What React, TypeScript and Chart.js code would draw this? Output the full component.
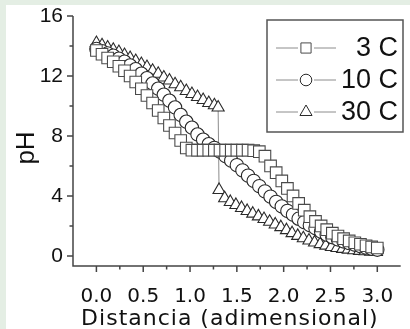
import React, { useEffect, useRef } from 'react';
import { Chart, registerables } from 'chart.js';

Chart.register(...registerables);

// ---------- data ----------
const distancia = [
  0, 0.06, 0.12, 0.18, 0.24, 0.3, 0.36, 0.42, 0.48, 0.54, 0.6, 0.66, 0.72, 0.78, 0.84, 0.9, 0.96,
  1.02, 1.08, 1.14, 1.2, 1.26, 1.32, 1.38, 1.44, 1.5, 1.56, 1.62, 1.68, 1.74, 1.8, 1.86, 1.92, 1.98,
  2.04, 2.1, 2.16, 2.22, 2.28, 2.34, 2.4, 2.46, 2.52, 2.58, 2.64, 2.7, 2.76, 2.82, 2.88, 2.94, 3.0,
];

const ph3C = [
  13.7, 13.45, 13.2, 12.95, 12.65, 12.35, 12.0, 11.6, 11.15, 10.7, 10.2, 9.7, 9.2, 8.7, 8.2, 7.7, 7.2,
  7.05, 7.05, 7.05, 7.05, 7.05, 7.05, 7.05, 7.05, 7.05, 7.05, 7.05, 7.02, 6.95, 6.65, 6.0, 5.55, 5.0,
  4.5, 4.0, 3.5, 3.05, 2.62, 2.3, 2.0, 1.75, 1.52, 1.33, 1.15, 1.0, 0.88, 0.78, 0.68, 0.6, 0.53,
];

const ph10C = [
  13.8, 13.65, 13.5, 13.35, 13.15, 12.95, 12.7, 12.45, 12.15, 11.85, 11.5, 11.15, 10.75, 10.35, 9.9, 9.4, 8.95,
  8.55, 8.1, 7.75, 7.45, 7.2, 6.95, 6.65, 6.35, 6.05, 5.7, 5.35, 5.0, 4.65, 4.3, 3.95, 3.6, 3.3,
  3.0, 2.75, 2.48, 2.25, 2.05, 1.85, 1.62, 1.42, 1.25, 1.1, 0.97, 0.86, 0.75, 0.65, 0.56, 0.48, 0.42,
];

const distancia30 = [
  0, 0.06, 0.12, 0.18, 0.24, 0.3, 0.36, 0.42, 0.48, 0.54, 0.6, 0.66, 0.72, 0.78, 0.84, 0.9, 0.96,
  1.02, 1.08, 1.14, 1.2, 1.26, 1.3,
  1.31, 1.37, 1.43, 1.49, 1.55, 1.61, 1.67, 1.73, 1.79, 1.85, 1.91, 1.97, 2.03, 2.09, 2.15, 2.21,
  2.27, 2.33, 2.39, 2.45, 2.51, 2.57, 2.63, 2.69, 2.75, 2.81, 2.87, 2.93, 2.99,
];

const ph30C = [
  14.2, 14.05, 13.9, 13.75, 13.6, 13.4, 13.2, 13.0, 12.8, 12.6, 12.35, 12.15, 11.9, 11.7, 11.45, 11.25, 11.0,
  10.8, 10.6, 10.4, 10.2, 10.05, 9.9,
  4.4, 3.85, 3.6, 3.4, 3.2, 3.0, 2.82, 2.64, 2.46, 2.28, 2.1, 1.92, 1.72, 1.52, 1.34, 1.18,
  1.03, 0.9, 0.79, 0.69, 0.6, 0.53, 0.47, 0.42, 0.38, 0.34, 0.31, 0.28, 0.26,
];

const seriesNames = ['3 C', '10 C', '30 C'];
const seriesMarkers = ['rect', 'circle', 'triangle'];

const xMajorTicks = [0, 0.5, 1, 1.5, 2, 2.5, 3];
const xTickLabels = ['0.0', '0.5', '1.0', '1.5', '2.0', '2.5', '3.0'];
const xMinorTicks = [0.25, 0.75, 1.25, 1.75, 2.25, 2.75];
const yMajorTicks = [0, 4, 8, 12, 16];
const yTickLabels = ['0', '4', '8', '12', '16'];
const yMinorTicks = [2, 6, 10, 14];

const xTitle = 'Distancia (adimensional)';
const yTitle = 'pH';

// ---------- styles ----------
const LINE_COLOR = '#8c8c8c';
const AXIS_COLOR = '#444';
const TEXT_COLOR = '#111';
const MARKER_COLORS = ['#4a4a4a', '#2a2a2a', '#2a2a2a'];
const MARKER_RADII = [8.2, 6.7, 7.0];

function drawMarker(ctx: CanvasRenderingContext2D, style: string, x: number, y: number, r: number) {
  ctx.beginPath();
  if (style === 'rect') {
    const s = r * Math.SQRT1_2;
    ctx.rect(x - s, y - s, 2 * s, 2 * s);
  } else if (style === 'circle') {
    ctx.arc(x, y, r, 0, Math.PI * 2);
  } else {
    let a = 0;
    ctx.moveTo(x + Math.sin(a) * r, y - Math.cos(a) * r);
    a += (2 * Math.PI) / 3;
    ctx.lineTo(x + Math.sin(a) * r, y - Math.cos(a) * r);
    a += (2 * Math.PI) / 3;
    ctx.lineTo(x + Math.sin(a) * r, y - Math.cos(a) * r);
    ctx.closePath();
  }
  ctx.fill();
  ctx.stroke();
}

const decorPlugin = {
  id: 'decor',
  beforeDraw(chart: any) {
    const ctx = chart.ctx as CanvasRenderingContext2D;
    ctx.save();
    ctx.fillStyle = '#e4eee4';
    ctx.fillRect(0, 0, chart.width, chart.height);
    ctx.fillStyle = '#ffffff';
    ctx.fillRect(6, 5, chart.width - 6, chart.height - 5);
    ctx.restore();
  },
  beforeDatasetsDraw(chart: any) {
    const ctx = chart.ctx as CanvasRenderingContext2D;
    const { left, right, top, bottom } = chart.chartArea;
    const xs = chart.scales.x;
    const ys = chart.scales.y;
    ctx.save();
    ctx.strokeStyle = AXIS_COLOR;
    ctx.lineWidth = 1.5;
    ctx.beginPath();
    ctx.moveTo(left, top);
    ctx.lineTo(left, bottom);
    ctx.lineTo(right, bottom);
    for (const v of yMajorTicks) {
      const y = ys.getPixelForValue(v);
      ctx.moveTo(left, y);
      ctx.lineTo(left - 6, y);
    }
    for (const v of yMinorTicks) {
      const y = ys.getPixelForValue(v);
      ctx.moveTo(left, y);
      ctx.lineTo(left - 3.5, y);
    }
    for (const v of xMajorTicks) {
      const x = xs.getPixelForValue(v);
      ctx.moveTo(x, bottom);
      ctx.lineTo(x, bottom + 6);
    }
    for (const v of xMinorTicks) {
      const x = xs.getPixelForValue(v);
      ctx.moveTo(x, bottom);
      ctx.lineTo(x, bottom + 3.5);
    }
    ctx.stroke();
    ctx.restore();
  },
  afterDraw(chart: any) {
    const ctx = chart.ctx as CanvasRenderingContext2D;
    const { left, right } = chart.chartArea;
    ctx.save();
    // axis titles
    ctx.fillStyle = TEXT_COLOR;
    ctx.font = '22px "DejaVu Sans"';
    ctx.textAlign = 'center';
    ctx.textBaseline = 'middle';
    (ctx as any).letterSpacing = '1px';
    ctx.fillText(xTitle, (left + right) / 2 - 7, 319);
    (ctx as any).letterSpacing = '0px';

    ctx.save();
    ctx.translate(27, 148);
    ctx.rotate(-Math.PI / 2);
    ctx.font = '26px "Liberation Sans"';
    ctx.fillText(yTitle, 0, 0);
    ctx.restore();

    // legend
    ctx.strokeStyle = '#555';
    ctx.lineWidth = 1.5;
    ctx.strokeRect(267, 20, 136, 112);
    ctx.font = '27px "Liberation Sans"';
    ctx.textAlign = 'right';
    ctx.textBaseline = 'middle';
    seriesNames.forEach((name, i) => {
      const y = 48 + 32 * i;
      ctx.strokeStyle = LINE_COLOR;
      ctx.lineWidth = 1;
      ctx.beginPath();
      ctx.moveTo(276, y);
      ctx.lineTo(298, y);
      ctx.moveTo(314, y);
      ctx.lineTo(336, y);
      ctx.stroke();
      ctx.fillStyle = '#fff';
      ctx.strokeStyle = MARKER_COLORS[i];
      ctx.lineWidth = 1;
      drawMarker(ctx, seriesMarkers[i], 306, y, [7.2, 5.8, 7.0][i]);
      ctx.fillStyle = TEXT_COLOR;
      ctx.fillText(name, 398, y + 1);
    });
    ctx.restore();
  },
};

function makeDataset(i: number, xs: number[], ys: number[]) {
  return {
    label: seriesNames[i],
    data: xs.map((x, k) => ({ x, y: ys[k] })),
    borderColor: LINE_COLOR,
    borderWidth: 1,
    backgroundColor: '#ffffff',
    pointStyle: seriesMarkers[i],
    pointRadius: MARKER_RADII[i],
    pointBorderColor: MARKER_COLORS[i],
    pointBackgroundColor: '#ffffff',
    pointBorderWidth: 1.1,
    tension: 0,
    fill: false,
  };
}

export default function App() {
  const ref = useRef<HTMLCanvasElement>(null);

  useEffect(() => {
    if (!ref.current) return;
    const chart = new Chart(ref.current, {
      type: 'line',
      data: {
        datasets: [
          makeDataset(0, distancia, ph3C),
          makeDataset(1, distancia, ph10C),
          makeDataset(2, distancia30, ph30C),
        ],
      },
      options: {
        animation: false,
        responsive: false,
        devicePixelRatio: 1,
        events: [],
        layout: { padding: { top: 16, left: 0, right: 0, bottom: 0 } },
        plugins: {
          legend: { display: false },
          tooltip: { enabled: false },
          title: { display: false },
        },
        scales: {
          x: {
            type: 'linear',
            min: -0.25,
            max: 3.25,
            grid: { display: false, drawTicks: false },
            border: { display: false },
            afterBuildTicks: (scale: any) => {
              scale.ticks = xMajorTicks.map((v) => ({ value: v }));
            },
            afterFit: (scale: any) => {
              scale.height = 63;
              scale.paddingLeft = 0;
              scale.paddingRight = 0;
              scale.paddingTop = 0;
              scale.paddingBottom = 0;
            },
            ticks: {
              autoSkip: false,
              maxRotation: 0,
              padding: 19,
              color: TEXT_COLOR,
              font: { family: '"DejaVu Sans"', size: 20 },
              callback: (_v: any, idx: number) => xTickLabels[idx],
            },
          },
          y: {
            type: 'linear',
            min: -0.67,
            max: 16,
            grid: { display: false, drawTicks: false },
            border: { display: false },
            afterBuildTicks: (scale: any) => {
              scale.ticks = yMajorTicks.map((v) => ({ value: v }));
            },
            afterFit: (scale: any) => {
              scale.width = 73;
              scale.paddingLeft = 0;
              scale.paddingRight = 0;
              scale.paddingTop = 0;
              scale.paddingBottom = 0;
            },
            ticks: {
              autoSkip: false,
              padding: 10,
              color: TEXT_COLOR,
              font: { family: '"Liberation Sans"', size: 21 },
              callback: (_v: any, idx: number) => yTickLabels[idx],
            },
          },
        },
      } as any,
      plugins: [decorPlugin],
    });
    return () => chart.destroy();
  }, []);

  return (
    <canvas
      ref={ref}
      width={410}
      height={329}
      style={{ position: 'fixed', left: 0, top: 0, width: 410, height: 329, display: 'block' }}
    />
  );
}
